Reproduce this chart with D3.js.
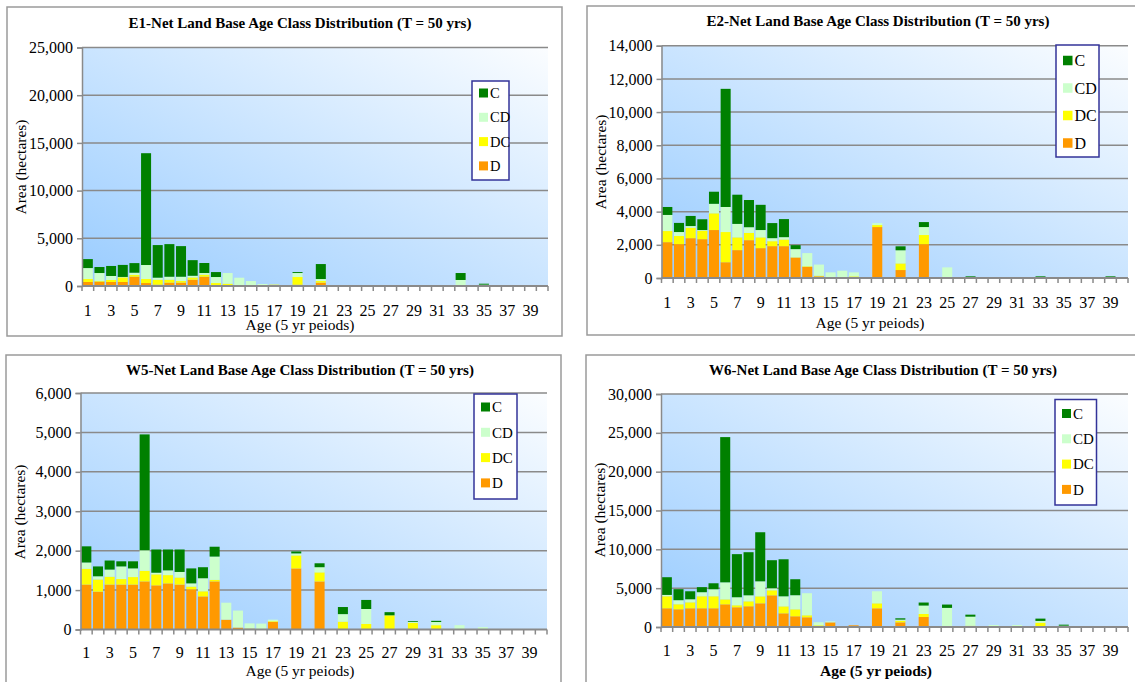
<!DOCTYPE html>
<html>
<head>
<meta charset="utf-8">
<script src="https://cdn.jsdelivr.net/npm/d3@7/dist/d3.min.js"></script>
<style>
  html, body { margin: 0; padding: 0; background: #ffffff; }
  svg { display: block; }
  svg text { font-family: "Liberation Serif", "Times New Roman", serif !important; fill: #000; }
</style>
</head>
<body>
<svg id="chart" width="1135" height="682"></svg>
<script>
// Age classes (5-year periods)
const ages = [1,2,3,4,5,6,7,8,9,10,11,12,13,14,15,16,17,18,19,20,
              21,22,23,24,25,26,27,28,29,30,31,32,33,34,35,36,37,38,39,40];

// Forest type groups, stacked bottom to top
const seriesKeys = ["D", "DC", "CD", "C"];
const legendOrder = ["C", "CD", "DC", "D"];

// E1 net land base (hectares)
const e1D  = [420,450,420,420,980,310,140,350,350,660,980,0,0,0,0,0,0,0,140,0,350,0,0,0,0,0,0,0,0,0,0,0,0,0,0,0,0,0,0,0];
const e1DC = [310,70,210,490,170,420,520,310,170,240,210,310,240,0,0,0,140,0,800,0,170,0,0,0,0,0,0,0,0,0,0,0,0,0,0,0,0,0,0,0];
const e1CD = [1150,840,420,40,240,1470,210,310,450,170,170,630,1120,870,520,210,0,100,420,0,210,0,0,0,0,0,0,0,0,0,0,0,630,0,140,0,100,0,0,0];
const e1C  = [940,630,1050,1260,1010,11720,3420,3420,3210,1640,1050,520,0,0,0,0,0,0,100,0,1570,0,0,0,0,0,0,0,100,0,100,0,730,0,100,0,0,0,0,0];

// E2 net land base (hectares)
const e2D  = [2160,2040,2400,2340,2890,950,1680,2280,1800,1920,1920,1230,670,100,20,0,20,0,3070,0,480,0,2040,0,0,0,0,0,0,0,0,0,0,0,0,0,0,0,0,0];
const e2DC = [670,490,630,510,1010,1820,770,440,650,300,400,20,40,40,0,0,80,0,120,0,400,0,550,0,0,0,0,0,0,0,0,0,0,0,0,0,0,0,0,0];
const e2CD = [970,240,100,40,570,1510,810,340,440,180,140,490,790,670,320,440,240,0,120,0,790,0,480,0,640,0,0,0,0,0,0,0,0,0,60,0,0,0,0,0];
const e2C  = [480,550,610,650,730,7120,1760,1640,1520,910,1090,240,0,0,0,0,0,0,0,0,240,0,300,0,0,0,100,0,0,0,0,0,100,0,0,0,0,0,100,0];

// W5 net land base (hectares)
const w5D  = [1140,960,1140,1140,1140,1220,1120,1170,1140,1020,840,1220,250,50,25,0,190,0,1550,0,1220,0,0,0,0,0,0,0,0,0,0,0,0,0,0,0,0,0,0,0];
const w5DC = [400,310,200,140,190,270,280,210,180,70,130,40,0,0,0,0,20,0,330,0,230,0,200,0,140,0,360,0,170,0,110,0,0,0,0,0,0,0,0,0];
const w5CD = [160,80,180,320,220,520,40,120,140,80,330,590,430,430,130,150,40,0,50,0,130,0,190,0,380,0,0,0,20,0,80,0,110,0,60,0,0,0,0,0];
const w5C  = [410,250,230,130,180,2940,590,530,570,380,280,250,0,0,0,0,0,0,50,0,100,0,180,0,230,0,80,0,20,0,30,0,0,0,0,0,0,0,0,0];

// W6 net land base (hectares)
const w6D  = [2410,2280,2410,2410,2410,2920,2540,2670,3050,4080,1760,1380,1250,0,600,0,220,0,2410,0,600,0,1290,0,0,0,0,0,0,0,0,0,0,0,0,0,0,0,0,0];
const w6DC = [1550,650,770,1550,1550,640,260,640,900,650,900,900,260,220,0,0,0,0,640,0,220,0,390,0,0,0,170,0,0,0,130,0,560,0,0,0,0,0,0,0];
const w6CD = [170,520,390,520,900,2190,1030,770,1930,260,1290,1810,2840,390,130,0,0,0,1550,0,130,0,1080,0,2460,0,1160,0,260,0,130,0,220,0,170,0,0,0,0,0];
const w6C  = [2280,1420,1030,650,770,18700,5550,5550,6320,3610,4770,2060,0,0,0,0,0,0,0,0,170,0,390,0,430,0,260,0,0,0,0,0,300,0,130,0,0,0,0,0];

// Y-axis tick values per panel
const e1Ticks = [0,5000,10000,15000,20000,25000];
const e2Ticks = [0,2000,4000,6000,8000,10000,12000,14000];
const w5Ticks = [0,1000,2000,3000,4000,5000,6000];
const w6Ticks = [0,5000,10000,15000,20000,25000,30000];

const colors = { C: "#008000", CD: "#CCFFCC", DC: "#FFFF00", D: "#FF9900" };
const SERIF = '"Liberation Serif", "Times New Roman", serif';

const svg = d3.select("#chart");

// Shared plot-area fill
const defs = svg.append("defs");
const grad = defs.append("linearGradient")
  .attr("id", "plotFill")
  .attr("x1", 0).attr("y1", 1).attr("x2", 1).attr("y2", 0);
grad.append("stop").attr("offset", "0%").attr("stop-color", "#99CCFF");
grad.append("stop").attr("offset", "100%").attr("stop-color", "#FBFDFF");

const panels = [
  {
    title: "E1-Net Land Base Age Class Distribution (T = 50 yrs)",
    data: { D: e1D, DC: e1DC, CD: e1CD, C: e1C }, ticks: e1Ticks,
    frame: [7, 7, 562, 336],
    plot: { l: 82, t: 47.5, r: 548, b: 286 },
    titleY: 23, titleX: 300, xLabY: 310, xTitleX: 300, xTitleY: 325, yTitleX: 21, yTitleY: 167,
    xTitleBold: false,
    legend: { x: 472, y: 81, w: 37, h: 99, first: 12, gap: 24.3, sw: 9, fs: 14.5 }
  },
  {
    title: "E2-Net Land Base Age Class Distribution (T = 50 yrs)",
    data: { D: e2D, DC: e2DC, CD: e2CD, C: e2C }, ticks: e2Ticks,
    frame: [587, 6, 1145, 335],
    plot: { l: 661.5, t: 45.7, r: 1128, b: 278 },
    titleY: 20.5, titleX: 878, xLabY: 302, xTitleX: 870, xTitleY: 323, yTitleX: 601, yTitleY: 162,
    xTitleBold: false,
    legend: { x: 1056, y: 45, w: 43, h: 112, first: 15.5, gap: 27.5, sw: 9.5, fs: 16 }
  },
  {
    title: "W5-Net Land Base Age Class Distribution (T = 50 yrs)",
    data: { D: w5D, DC: w5DC, CD: w5CD, C: w5C }, ticks: w5Ticks,
    frame: [6, 355, 561, 700],
    plot: { l: 80.5, t: 393, r: 547, b: 629.5 },
    titleY: 370, titleX: 300, xLabY: 652, xTitleX: 300, xTitleY: 671, yTitleX: 20, yTitleY: 512,
    xTitleBold: false,
    legend: { x: 474, y: 394, w: 43, h: 105, first: 13, gap: 25.3, sw: 9, fs: 15 }
  },
  {
    title: "W6-Net Land Base Age Class Distribution (T = 50 yrs)",
    data: { D: w6D, DC: w6DC, CD: w6CD, C: w6C }, ticks: w6Ticks,
    frame: [586, 355, 1145, 700],
    plot: { l: 661, t: 394, r: 1128, b: 627 },
    titleY: 370, titleX: 883, xLabY: 650, xTitleX: 876, xTitleY: 671, yTitleX: 600, yTitleY: 510,
    xTitleBold: true,
    legend: { x: 1055, y: 399.5, w: 41.5, h: 105.5, first: 14, gap: 25.3, sw: 9, fs: 15 }
  }
];

panels.forEach(drawPanel);

function drawPanel(p) {
  const g = svg.append("g");
  const [fx0, fy0, fx1, fy1] = p.frame;

  // Chart frame
  g.append("rect")
    .attr("x", fx0).attr("y", fy0)
    .attr("width", fx1 - fx0).attr("height", fy1 - fy0)
    .attr("fill", "#ffffff").attr("stroke", "#9a9a9a").attr("stroke-width", 1.5);

  const { l, t, r, b } = p.plot;

  const x = d3.scaleBand().domain(ages).range([l, r])
    .paddingInner(0.14).paddingOuter(0.07);
  const yMax = p.ticks[p.ticks.length - 1];
  const y = d3.scaleLinear().domain([0, yMax]).range([b, t]);

  // Plot area background
  g.append("rect")
    .attr("x", l).attr("y", t).attr("width", r - l).attr("height", b - t)
    .attr("fill", "url(#plotFill)");

  // Horizontal gridlines
  g.append("g").selectAll("line")
    .data(p.ticks.filter(v => v > 0))
    .join("line")
    .attr("x1", l).attr("x2", r)
    .attr("y1", d => y(d)).attr("y2", d => y(d))
    .attr("stroke", "#8a8a8a").attr("stroke-width", 1.5);

  // Stacked bars
  const table = ages.map((a, i) => {
    const row = { age: a };
    seriesKeys.forEach(k => { row[k] = p.data[k][i]; });
    return row;
  });
  const stacked = d3.stack().keys(seriesKeys)(table);

  g.append("g").selectAll("g")
    .data(stacked)
    .join("g")
    .attr("fill", d => colors[d.key])
    .selectAll("rect")
    .data(d => d.filter(s => s[1] - s[0] > 0))
    .join("rect")
    .attr("x", d => x(d.data.age))
    .attr("width", x.bandwidth())
    .attr("y", d => y(d[1]))
    .attr("height", d => y(d[0]) - y(d[1]));

  // Y axis
  const yAxis = d3.axisLeft(y)
    .tickValues(p.ticks)
    .tickFormat(d3.format(","))
    .tickSize(5).tickPadding(4);
  const yg = g.append("g").attr("transform", `translate(${l},0)`).call(yAxis)
    .attr("font-family", SERIF).attr("font-size", 16);
  yg.select(".domain").attr("stroke", "#8a8a8a").attr("stroke-width", 1.5);
  yg.selectAll(".tick line").attr("stroke", "#8a8a8a").attr("stroke-width", 1.5);
  yg.selectAll(".tick text")
    .style("font-family", SERIF).style("font-size", "16px").attr("fill", "#000");

  // X axis: labels on odd age classes, ticks on class boundaries
  const xAxis = d3.axisBottom(x)
    .tickValues(ages.filter(a => a % 2 === 1))
    .tickSize(0).tickPadding(0);
  const xg = g.append("g").attr("transform", `translate(0,${b})`).call(xAxis)
    .attr("font-family", SERIF).attr("font-size", 16);
  xg.select(".domain").remove();
  xg.selectAll(".tick text")
    .style("font-family", SERIF).style("font-size", "16px").attr("fill", "#000")
    .attr("y", p.xLabY - b).attr("dy", "0.35em");

  const bounds = d3.range(ages.length + 1).map(k => l + k * x.step());
  g.append("g").selectAll("line")
    .data(bounds)
    .join("line")
    .attr("x1", d => d).attr("x2", d => d)
    .attr("y1", b).attr("y2", b + 5)
    .attr("stroke", "#8a8a8a").attr("stroke-width", 1.5);
  g.append("line")
    .attr("x1", l).attr("x2", r).attr("y1", b).attr("y2", b)
    .attr("stroke", "#8a8a8a").attr("stroke-width", 2);

  // Title
  g.append("text")
    .attr("x", p.titleX).attr("y", p.titleY)
    .attr("text-anchor", "middle").attr("dy", "0.35em")
    .style("font-family", SERIF).style("font-size", "15px").style("font-weight", "bold")
    .text(p.title);

  // Axis titles
  g.append("text")
    .attr("x", p.xTitleX).attr("y", p.xTitleY)
    .attr("text-anchor", "middle").attr("dy", "0.35em")
    .style("font-family", SERIF).style("font-size", "15.5px")
    .style("font-weight", p.xTitleBold ? "bold" : "normal")
    .text("Age (5 yr peiods)");

  g.append("text")
    .attr("transform", `translate(${p.yTitleX},${p.yTitleY}) rotate(-90)`)
    .attr("text-anchor", "middle").attr("dy", "0.35em")
    .style("font-family", SERIF).style("font-size", "15.5px")
    .text("Area (hectares)");

  // Legend
  const L = p.legend;
  const lg = g.append("g");
  lg.append("rect")
    .attr("x", L.x).attr("y", L.y).attr("width", L.w).attr("height", L.h)
    .attr("fill", "#ffffff").attr("stroke", "#333399").attr("stroke-width", 1.5);
  legendOrder.forEach((k, i) => {
    const cy = L.y + L.first + i * L.gap;
    lg.append("rect")
      .attr("x", L.x + 7).attr("y", cy - L.sw / 2)
      .attr("width", L.sw).attr("height", L.sw)
      .attr("fill", colors[k]);
    lg.append("text")
      .attr("x", L.x + 7 + L.sw + 2).attr("y", cy)
      .attr("dy", "0.35em")
      .style("font-family", SERIF).style("font-size", L.fs + "px")
      .text(k);
  });
}
</script>
</body>
</html>
